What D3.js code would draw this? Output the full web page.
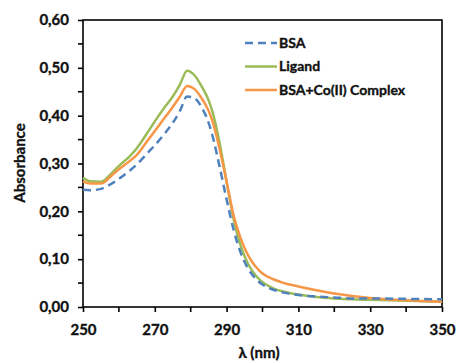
<!DOCTYPE html>
<html>
<head>
<meta charset="utf-8">
<script src="https://cdn.jsdelivr.net/npm/d3@7"></script>
<style>
  body { margin: 0; background: #fff; }
  svg { display: block; font-family: Lato, "Open Sans", sans-serif; }
  svg text { stroke: #111; stroke-width: 0.35px; }
</style>
</head>
<body>
<div id="chart"></div>
<script>
// wavelength grid (nm) and absorbance
const wavelengths = [250, 252, 255, 258, 260, 263, 265, 268, 270, 273, 275, 277, 279, 281, 283, 285, 286, 288, 290, 292, 294, 296, 298, 300, 303, 306, 310, 315, 320, 325, 330, 340, 350];
const bsa     = [0.245, 0.244, 0.247, 0.258, 0.268, 0.285, 0.298, 0.322, 0.338, 0.365, 0.385, 0.410, 0.440, 0.437, 0.418, 0.385, 0.360, 0.295, 0.225, 0.160, 0.112, 0.080, 0.060, 0.047, 0.036, 0.030, 0.025, 0.022, 0.020, 0.018, 0.018, 0.017, 0.016];
const ligand  = [0.270, 0.263, 0.262, 0.280, 0.295, 0.315, 0.332, 0.365, 0.388, 0.420, 0.440, 0.465, 0.494, 0.485, 0.462, 0.432, 0.410, 0.345, 0.262, 0.182, 0.126, 0.090, 0.067, 0.052, 0.039, 0.032, 0.026, 0.021, 0.018, 0.016, 0.015, 0.013, 0.011];
const complex = [0.262, 0.258, 0.258, 0.275, 0.288, 0.305, 0.318, 0.348, 0.368, 0.398, 0.418, 0.440, 0.462, 0.456, 0.437, 0.410, 0.390, 0.332, 0.262, 0.190, 0.142, 0.108, 0.085, 0.070, 0.058, 0.050, 0.043, 0.035, 0.028, 0.023, 0.019, 0.014, 0.011];

const seriesNames = ['BSA', 'Ligand', 'BSA+Co(II) Complex'];
const seriesColors = ['#4f81bd', '#9bbb59', '#f79646'];
const xTicks = [250, 270, 290, 310, 330, 350];
const yTicks = [0, 0.1, 0.2, 0.3, 0.4, 0.5, 0.6];

const width = 458, height = 363;
const margin = { top: 20, right: 16, bottom: 56, left: 83 };
const innerW = width - margin.left - margin.right;
const innerH = height - margin.top - margin.bottom;

const x = d3.scaleLinear().domain([250, 350]).range([0, innerW]);
const y = d3.scaleLinear().domain([0, 0.6]).range([innerH, 0]);

const svg = d3.select('#chart').append('svg')
  .attr('width', width).attr('height', height);

const g = svg.append('g').attr('transform', `translate(${margin.left},${margin.top})`);

// frame
g.append('rect').attr('width', innerW).attr('height', innerH)
  .attr('fill', 'none').attr('stroke', '#000').attr('stroke-width', 1.6);

const fmt = (v) => v.toFixed(2).replace('.', ',');

// minor ticks
g.append('g').selectAll('line')
  .data(d3.range(260, 351, 20))
  .join('line')
  .attr('x1', (d) => x(d)).attr('x2', (d) => x(d))
  .attr('y1', innerH).attr('y2', innerH + 5)
  .attr('stroke', '#000').attr('stroke-width', 1.6);
g.append('g').selectAll('line')
  .data(d3.range(0.05, 0.6, 0.1))
  .join('line')
  .attr('x1', -5).attr('x2', 0)
  .attr('y1', (d) => y(d)).attr('y2', (d) => y(d))
  .attr('stroke', '#000').attr('stroke-width', 1.6);

const xAxis = g.append('g').attr('transform', `translate(0,${innerH})`)
  .call(d3.axisBottom(x).tickValues(xTicks).tickSize(5).tickPadding(12).tickFormat(d3.format('d')));
const yAxis = g.append('g')
  .call(d3.axisLeft(y).tickValues(yTicks).tickSize(5).tickPadding(9).tickFormat(fmt));

[xAxis, yAxis].forEach((a) => {
  a.select('.domain').remove();
  a.selectAll('line').attr('stroke', '#000').attr('stroke-width', 1.6);
  a.selectAll('text').attr('fill', '#111').style('font-size', '15px').style('font-weight', 'bold')
    .style('font-family', 'Lato, sans-serif');
});

// axis titles
svg.append('text').attr('x', 259).attr('y', 358).attr('text-anchor', 'middle')
  .style('font-size', '15px').style('font-weight', 'bold').attr('fill', '#111').text('λ (nm)');
svg.append('text').attr('transform', 'translate(25,163) rotate(-90)').attr('text-anchor', 'middle')
  .style('font-size', '15px').style('font-weight', 'bold').attr('fill', '#111').text('Absorbance');

// lines
const allSeries = [bsa, ligand, complex];
const line = d3.line().x((d) => x(d[0])).y((d) => y(d[1])).curve(d3.curveMonotoneX);
const drawOrder = [1, 2, 0];
drawOrder.forEach((i) => {
  g.append('path')
    .datum(wavelengths.map((w, k) => [w, allSeries[i][k]]))
    .attr('fill', 'none')
    .attr('stroke', seriesColors[i])
    .attr('stroke-width', 2.5)
    .attr('stroke-dasharray', i === 0 ? '8,5' : null)
    .attr('d', line);
});

// legend
const legend = svg.append('g').attr('transform', 'translate(245,43)');
seriesNames.forEach((name, i) => {
  const row = legend.append('g').attr('transform', `translate(0,${i * 23.5})`);
  row.append('line').attr('x1', 0).attr('x2', 32).attr('y1', 0).attr('y2', 0)
    .attr('stroke', seriesColors[i]).attr('stroke-width', 2.5)
    .attr('stroke-dasharray', i === 0 ? '8,5' : null);
  row.append('text').attr('x', 34).attr('y', 0).attr('dy', '0.35em')
    .style('font-size', '14px').style('font-weight', 'bold').attr('fill', '#111').text(name);
});
</script>
</body>
</html>
